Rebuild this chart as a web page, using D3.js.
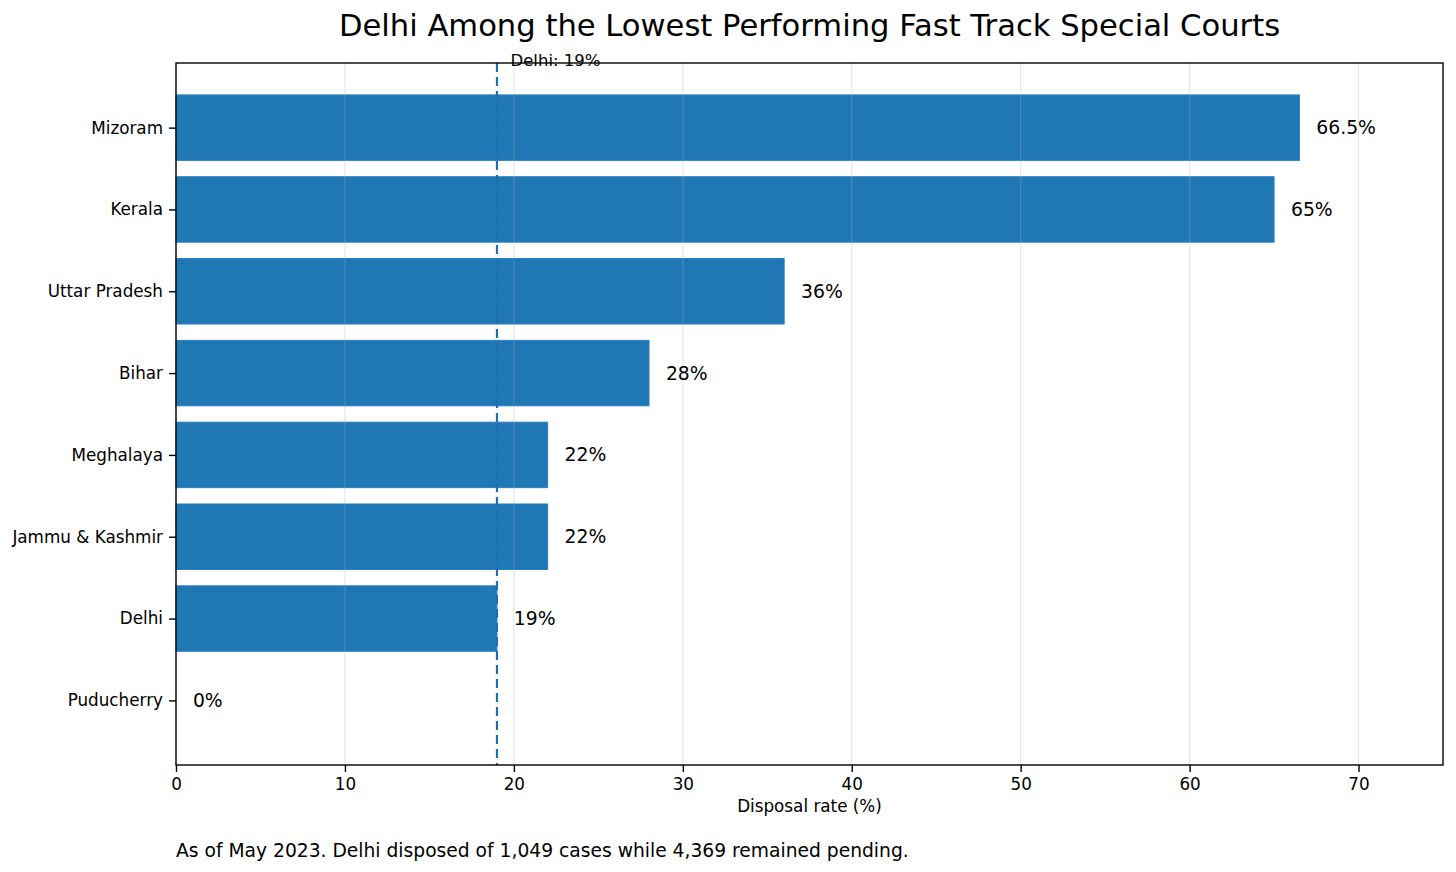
<!DOCTYPE html>
<html lang="en">
<head>
  <meta charset="UTF-8">
  <title>Delhi Among the Lowest Performing Fast Track Special Courts</title>
  <script src="https://d3js.org/d3.v7.min.js"></script>
  <style>
    body {
      margin: 0;
      background: #ffffff;
      font-family: 'DejaVu Sans', sans-serif;
    }
    svg text { fill: #000; }
  </style>
</head>
<body>
  <svg width="1456" height="872"></svg>
  <script>
    const states = ["Mizoram", "Kerala", "Uttar Pradesh", "Bihar", "Meghalaya", "Jammu & Kashmir", "Delhi", "Puducherry"];
    const rates = [66.5, 65, 36, 28, 22, 22, 19, 0];
    const rateLabels = ["66.5%", "65%", "36%", "28%", "22%", "22%", "19%", "0%"];
    const xTicks = [0, 10, 20, 30, 40, 50, 60, 70];
    const delhiRate = 19;

    const data = states.map((s, i) => ({state: s, rate: rates[i], label: rateLabels[i]}));

    const margin = {top: 63, right: 13, bottom: 107, left: 176};
    const W = 1456, H = 872;
    const width = W - margin.left - margin.right;
    const height = H - margin.top - margin.bottom;

    const svg = d3.select("svg");
    const g = svg.append("g")
      .attr("transform", "translate(" + margin.left + "," + margin.top + ")");

    const x = d3.scaleLinear().domain([0, 75]).range([0, width]);
    // matplotlib-like barh: index positions with 0.8 bar height and 5% margins
    const y = d3.scaleLinear().domain([-0.79, states.length - 1 + 0.79]).range([0, height]);
    const bh = y(0.4) - y(-0.4);

    // bars
    g.selectAll(".bar")
      .data(data)
      .enter().append("rect")
      .attr("class", "bar")
      .attr("x", x(0))
      .attr("y", (d, i) => y(i - 0.4))
      .attr("width", d => x(d.rate) - x(0))
      .attr("height", bh)
      .attr("fill", "#1f77b4")
      .attr("stroke", d => d.rate > 0 ? "#2a7fc0" : "none")
      .attr("stroke-width", 1);

    // grid (drawn over bars, faint)
    g.selectAll(".grid")
      .data(xTicks)
      .enter().append("line")
      .attr("x1", d => x(d)).attr("x2", d => x(d))
      .attr("y1", 0).attr("y2", height)
      .attr("stroke", "#b0b0b0")
      .attr("stroke-opacity", 0.3)
      .attr("stroke-width", 1.2);

    // Delhi reference line
    g.append("line")
      .attr("x1", x(delhiRate)).attr("x2", x(delhiRate))
      .attr("y1", 0).attr("y2", height)
      .attr("stroke", "#1f6fb0")
      .attr("stroke-width", 2.2)
      .attr("stroke-dasharray", "9,5");

    g.append("text")
      .attr("x", x(delhiRate + 0.8))
      .attr("y", -2)
      .attr("dominant-baseline", "middle")
      .style("font-size", "16.5px")
      .text("Delhi: " + delhiRate + "%");

    // value labels
    g.selectAll(".val")
      .data(data)
      .enter().append("text")
      .attr("x", d => x(d.rate + 1))
      .attr("y", (d, i) => y(i))
      .attr("dominant-baseline", "central")
      .style("font-size", "18.8px")
      .text(d => d.label);

    // axes
    const xAxis = g.append("g")
      .attr("transform", "translate(0," + height + ")")
      .call(d3.axisBottom(x).tickValues(xTicks).tickSize(7).tickPadding(6).tickFormat(d3.format("d")));
    xAxis.select(".domain").remove();
    xAxis.selectAll("line").attr("stroke", "#000").attr("stroke-width", 1.4);
    xAxis.selectAll("text").style("font-size", "16.8px").style("font-family", "'DejaVu Sans', sans-serif");

    const yAxis = g.append("g")
      .call(d3.axisLeft(y).tickValues(d3.range(states.length)).tickSize(7).tickPadding(6).tickFormat(i => states[i]));
    yAxis.select(".domain").remove();
    yAxis.selectAll("line").attr("stroke", "#000").attr("stroke-width", 1.4);
    yAxis.selectAll("text").style("font-size", "16.8px").style("font-family", "'DejaVu Sans', sans-serif");

    // frame
    g.append("rect")
      .attr("x", 0).attr("y", 0)
      .attr("width", width).attr("height", height)
      .attr("fill", "none")
      .attr("stroke", "#000")
      .attr("stroke-width", 1.4);

    // title & labels
    svg.append("text")
      .attr("x", margin.left + width / 2)
      .attr("y", 25)
      .attr("text-anchor", "middle")
      .attr("dominant-baseline", "central")
      .style("font-size", "30.6px")
      .text("Delhi Among the Lowest Performing Fast Track Special Courts");

    svg.append("text")
      .attr("x", margin.left + width / 2)
      .attr("y", 806)
      .attr("text-anchor", "middle")
      .attr("dominant-baseline", "central")
      .style("font-size", "16.8px")
      .text("Disposal rate (%)");

    svg.append("text")
      .attr("x", margin.left)
      .attr("y", 850)
      .attr("dominant-baseline", "central")
      .style("font-size", "18.7px")
      .text("As of May 2023. Delhi disposed of 1,049 cases while 4,369 remained pending.");
  </script>
</body>
</html>
